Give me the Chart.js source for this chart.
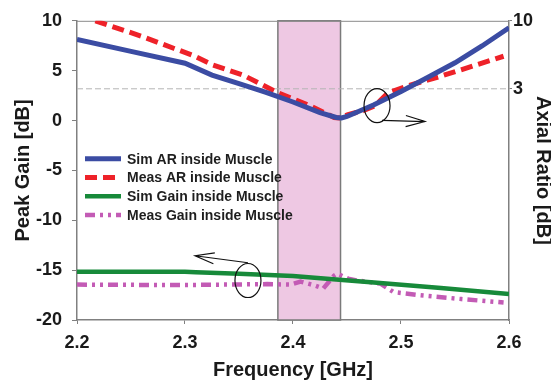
<!DOCTYPE html>
<html>
<head>
<meta charset="utf-8">
<script src="https://cdn.jsdelivr.net/npm/chart.js@4.4.1/dist/chart.umd.min.js"></script>
<style>
  html, body { margin: 0; padding: 0; background: #ffffff; }
  canvas { display: block; }
</style>
</head>
<body>
<canvas id="chart" width="551" height="383"></canvas>
<script>
// Axis ticks
const freqTicks = [2.2, 2.3, 2.4, 2.5, 2.6];
const gainTicks = [-20, -15, -10, -5, 0, 5, 10];
const arTicks = [3, 10];

// Axial ratio (right axis, dB)
const simArFreq = [2.2, 2.25, 2.3, 2.325, 2.35, 2.375, 2.4, 2.425, 2.44, 2.445, 2.45, 2.475, 2.5, 2.525, 2.55, 2.575, 2.6];
const simArVal  = [8.07, 6.85, 5.63, 4.41, 3.53, 2.64, 1.64, 0.55, 0.05, 0.0, 0.15, 1.36, 2.73, 4.18, 5.68, 7.41, 9.29];

const measArFreq = [2.217, 2.26, 2.29, 2.307, 2.326, 2.354, 2.386, 2.416, 2.438, 2.444, 2.451, 2.465, 2.476, 2.488, 2.506, 2.537, 2.568, 2.595];
const measArVal  = [10.0, 8.4, 7.15, 6.45, 5.45, 4.4, 2.6, 1.25, 0.05, 0.0, 0.35, 0.75, 1.26, 2.58, 3.3, 4.3, 5.4, 6.35];

// Peak gain (left axis, dB)
const simGainFreq = [2.2, 2.3, 2.31, 2.35, 2.4, 2.44, 2.475, 2.537, 2.6];
const simGainVal  = [-15.15, -15.15, -15.2, -15.36, -15.6, -15.95, -16.25, -16.8, -17.4];

const measGainFreq = [2.2, 2.296, 2.376, 2.398, 2.407, 2.419, 2.428, 2.438, 2.441, 2.451, 2.46, 2.481, 2.493, 2.516, 2.556, 2.595];
const measGainVal  = [-16.45, -16.5, -16.4, -16.45, -16.15, -16.5, -16.85, -15.55, -15.35, -15.85, -16.05, -16.35, -17.2, -17.5, -17.9, -18.25];

// Shaded operating band (GHz) and the 3 dB axial-ratio reference
const bandFreq = [2.386, 2.444];
const arLimit = 3;

// Callouts: ellipse around a curve pair with an arrow toward its axis
const callouts = [
  { axis: 'y2', center: [2.4778, 1.26], from: [2.4824, -0.26], to: [2.5222, -0.37] },
  { axis: 'y',  center: [2.3583, -16.04], from: [2.3583, -14.26], to: [2.3093, -13.56] }
];

const pts = (xs, ys) => xs.map((x, i) => ({ x, y: ys[i] }));

Chart.defaults.font.family = "'Liberation Sans', Arial, sans-serif";
Chart.defaults.color = '#1a1a1a';

const bandPlugin = {
  id: 'band',
  beforeDatasetsDraw(chart) {
    const { ctx, chartArea: a, scales: { x } } = chart;
    const x0 = x.getPixelForValue(bandFreq[0]);
    const x1 = x.getPixelForValue(bandFreq[1]);
    ctx.save();
    ctx.fillStyle = '#eec8e3';
    ctx.fillRect(x0, a.top, x1 - x0, a.bottom - a.top);
    ctx.strokeStyle = '#7a7a7a';
    ctx.lineWidth = 1.5;
    ctx.strokeRect(x0, a.top, x1 - x0, a.bottom - a.top);
    // top edge of the plot frame
    ctx.strokeStyle = '#8a8a8a';
    ctx.lineWidth = 1;
    ctx.beginPath();
    ctx.moveTo(a.left, a.top + 0.5);
    ctx.lineTo(a.right, a.top + 0.5);
    ctx.stroke();
    ctx.restore();
  }
};

const calloutPlugin = {
  id: 'callouts',
  afterDatasetsDraw(chart) {
    const { ctx, scales } = chart;
    ctx.save();
    ctx.strokeStyle = '#111';
    ctx.lineWidth = 1.2;
    callouts.forEach(c => {
      const ys = scales[c.axis];
      const cx = scales.x.getPixelForValue(c.center[0]);
      const cy = ys.getPixelForValue(c.center[1]);
      ctx.beginPath();
      ctx.ellipse(cx, cy, 13, 17, 0, 0, Math.PI * 2);
      ctx.stroke();
      const fx = scales.x.getPixelForValue(c.from[0]);
      const fy = ys.getPixelForValue(c.from[1]);
      const tx = scales.x.getPixelForValue(c.to[0]);
      const ty = ys.getPixelForValue(c.to[1]);
      ctx.beginPath();
      ctx.moveTo(fx, fy);
      ctx.lineTo(tx, ty);
      const ang = Math.atan2(ty - fy, tx - fx);
      const len = 20, spread = 0.28;
      ctx.moveTo(tx - len * Math.cos(ang - spread), ty - len * Math.sin(ang - spread));
      ctx.lineTo(tx, ty);
      ctx.lineTo(tx - len * Math.cos(ang + spread), ty - len * Math.sin(ang + spread));
      ctx.stroke();
    });
    ctx.restore();
  }
};

const legendPlugin = {
  id: 'insideLegend',
  afterDraw(chart) {
    const { ctx, chartArea: a } = chart;
    const items = chart.data.datasets.filter(d => d.label);
    ctx.save();
    ctx.font = "bold 14px 'Liberation Sans', Arial, sans-serif";
    ctx.textBaseline = 'middle';
    ctx.textAlign = 'left';
    items.forEach((d, i) => {
      const y = a.top + 138 + i * 18.7;
      const x0 = a.left + 8;
      ctx.strokeStyle = d.borderColor;
      ctx.lineWidth = d.borderWidth;
      ctx.setLineDash(d.borderDash || []);
      ctx.beginPath();
      ctx.moveTo(x0, y);
      ctx.lineTo(x0 + 36, y);
      ctx.stroke();
      ctx.setLineDash([]);
      ctx.fillStyle = '#1e1e1e';
      ctx.fillText(d.label, x0 + 42, y + 1);
    });
    ctx.restore();
  }
};

const axisGray = '#808080';
const tickFont = { size: 18, weight: 'bold' };
const titleFont = { size: 20, weight: 'bold', lineHeight: 1 };

new Chart(document.getElementById('chart'), {
  type: 'line',
  data: {
    datasets: [
      { label: 'Sim AR inside Muscle', data: pts(simArFreq, simArVal), yAxisID: 'y2',
        borderColor: '#3b4ca3', borderWidth: 5, pointRadius: 0 },
      { label: 'Meas AR inside Muscle', data: pts(measArFreq, measArVal), yAxisID: 'y2',
        borderColor: '#ee2229', borderWidth: 5, borderDash: [12, 6], pointRadius: 0 },
      { label: 'Sim Gain inside Muscle', data: pts(simGainFreq, simGainVal), yAxisID: 'y',
        borderColor: '#178a3a', borderWidth: 4.5, pointRadius: 0 },
      { label: 'Meas Gain inside Muscle', data: pts(measGainFreq, measGainVal), yAxisID: 'y',
        borderColor: '#c35bb5', borderWidth: 4.5, borderDash: [10, 5, 3, 5, 3, 5], pointRadius: 0 },
      { label: '', data: [{ x: freqTicks[0], y: arLimit }, { x: freqTicks[freqTicks.length - 1], y: arLimit }],
        yAxisID: 'y2', borderColor: '#b4b4b4', borderWidth: 1, borderDash: [6, 3], pointRadius: 0 }
    ]
  },
  options: {
    responsive: false,
    animation: false,
    devicePixelRatio: 1,
    layout: { padding: { top: 15, left: 0, right: 0, bottom: 0 } },
    plugins: { legend: { display: false }, tooltip: { enabled: false } },
    scales: {
      x: {
        type: 'linear', min: 2.2, max: 2.6,
        afterBuildTicks: s => { s.ticks = freqTicks.map(v => ({ value: v })); },
        afterFit: s => { s.height = 63; },
        ticks: { font: tickFont, padding: 8, callback: v => v.toFixed(1), color: '#1a1a1a' },
        grid: { display: true, drawOnChartArea: false, drawTicks: true, tickLength: 4, tickColor: axisGray },
        border: { display: true, color: axisGray, width: 1.5 },
        title: { display: true, text: 'Frequency [GHz]', font: titleFont, padding: { top: 0, bottom: 3 }, color: '#1a1a1a' }
      },
      y: {
        position: 'left', min: -20, max: 10,
        afterBuildTicks: s => { s.ticks = gainTicks.map(v => ({ value: v })); },
        afterFit: s => { s.width = 77; },
        ticks: { font: tickFont, padding: 10, color: '#1a1a1a' },
        grid: { display: true, drawOnChartArea: false, drawTicks: true, tickLength: 5, tickColor: axisGray },
        border: { display: true, color: axisGray, width: 1.5 },
        title: { display: true, text: 'Peak Gain [dB]', font: titleFont, padding: { top: 13, bottom: 0 }, color: '#1a1a1a' }
      },
      y2: {
        position: 'right', min: -20.8, max: 10,
        afterBuildTicks: s => { s.ticks = arTicks.map(v => ({ value: v })); },
        afterFit: s => { s.width = 42; },
        ticks: { font: tickFont, padding: 1, color: '#1a1a1a' },
        grid: { display: true, drawOnChartArea: false, drawTicks: true, tickLength: 3, tickColor: axisGray },
        border: { display: true, color: axisGray, width: 1.5 },
        title: { display: true, text: 'Axial Ratio [dB]', font: titleFont, padding: { top: -2, bottom: 0 }, color: '#1a1a1a' }
      }
    }
  },
  plugins: [bandPlugin, calloutPlugin, legendPlugin]
});
</script>
</body>
</html>
